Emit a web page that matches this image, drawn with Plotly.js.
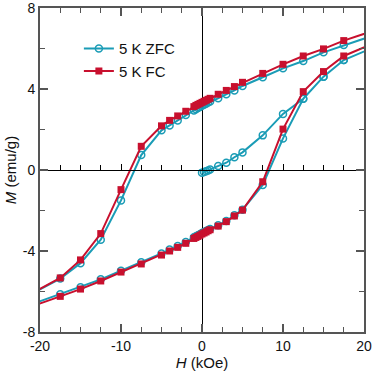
<!DOCTYPE html>
<html>
<head>
<meta charset="utf-8">
<script src="https://cdn.plot.ly/plotly-3.0.1.min.js"></script>
<style>html,body{margin:0;padding:0;background:#fff;}#chart{width:374px;height:371px;}</style>
</head>
<body>
<div id="chart"></div>
<script>
// ZFC: virgin curve, descending branch, ascending branch (H in kOe, M in emu/g)
const zfcVirginH = [0, 0.25, 0.5, 0.75, 1, 2, 3, 4, 5, 7.5, 10, 12.5, 15, 17.5, 25];
const zfcVirginM = [-0.13, -0.10, -0.06, -0.02, 0.03, 0.20, 0.36, 0.63, 0.87, 1.71, 2.77, 3.52, 4.61, 5.43, 6.70];

const descH = [25, 17.5, 15, 12.5, 10, 7.5, 5, 4, 3, 2, 1, 0.75, 0.5, 0.25, 0, -0.25, -0.5, -0.75, -1, -2, -3, -4, -5, -7.5, -10, -12.5, -15, -17.5, -25];
const zfcDescM = [7.16, 6.17, 5.81, 5.38, 5.02, 4.58, 4.15, 3.93, 3.74, 3.54, 3.38, 3.33, 3.27, 3.22, 3.17, 3.11, 3.06, 3.00, 2.94, 2.72, 2.45, 2.20, 1.96, 0.74, -1.50, -3.44, -4.60, -5.36, -6.95];
const fcDescM  = [7.38, 6.39, 5.98, 5.63, 5.22, 4.77, 4.33, 4.12, 3.93, 3.74, 3.54, 3.49, 3.44, 3.39, 3.34, 3.29, 3.24, 3.19, 3.13, 2.90, 2.67, 2.45, 2.18, 1.17, -0.97, -3.14, -4.44, -5.33, -6.95];

const ascH = [-25, -17.5, -15, -12.5, -10, -7.5, -5, -4, -3, -2, -1, -0.75, -0.5, -0.25, 0, 0.25, 0.5, 0.75, 1, 2, 3, 4, 5, 7.5, 10, 12.5, 15, 17.5, 25];
const zfcAscM = [-7.20, -6.14, -5.79, -5.40, -4.97, -4.56, -4.12, -3.93, -3.75, -3.55, -3.32, -3.27, -3.22, -3.17, -3.11, -3.06, -3.01, -2.96, -2.91, -2.73, -2.52, -2.24, -1.96, -0.74, 1.56, 3.52, 4.61, 5.43, 6.70];
const fcAscM  = [-7.30, -6.24, -5.88, -5.48, -5.04, -4.64, -4.20, -4.00, -3.82, -3.62, -3.38, -3.33, -3.28, -3.22, -3.16, -3.11, -3.06, -3.00, -2.95, -2.77, -2.55, -2.27, -1.98, -0.58, 2.02, 3.87, 4.86, 5.63, 6.90];

const seriesNames = ['5 K ZFC', '5 K FC'];
const xTickVals = [-20, -10, 0, 10, 20];
const xTickText = ['-20', '-10', '0', '10', '20'];
const yTickVals = [-8, -4, 0, 4, 8];
const yTickText = ['-8', '-4', '0', '4', '8'];

const cyan = '#1a9cb6';
const red = '#c8102e';

const zfcH = zfcVirginH.concat(descH, ascH);
const zfcM = zfcVirginM.concat(zfcDescM, zfcAscM);
const fcH = descH.concat(ascH);
const fcM = fcDescM.concat(fcAscM);

const traces = [
  {
    x: zfcH, y: zfcM, name: seriesNames[0], type: 'scatter', mode: 'lines+markers',
    line: {color: cyan, width: 2},
    marker: {symbol: 'circle-open', size: 7, color: cyan, line: {width: 1.5, color: cyan}},
    cliponaxis: true
  },
  {
    x: fcH, y: fcM, name: seriesNames[1], type: 'scatter', mode: 'lines+markers',
    line: {color: red, width: 2},
    marker: {symbol: 'square', size: 7, color: red},
    cliponaxis: true
  },
  {x: [], y: [], xaxis: 'x2', yaxis: 'y', showlegend: false, hoverinfo: 'skip'}
];

const frame = '#555555';
const font = {family: 'Liberation Sans, Arial, sans-serif', size: 14, color: '#111'};

const layout = {
  width: 374, height: 371,
  margin: {l: 40, r: 10, t: 8, b: 39},
  paper_bgcolor: '#fff', plot_bgcolor: '#fff',
  font: font,
  showlegend: true,
  legend: {
    x: 0.12, y: 0.925, xanchor: 'left', yanchor: 'top',
    bgcolor: 'rgba(0,0,0,0)', font: {family: font.family, size: 15, color: '#111'},
    tracegroupgap: 0, itemwidth: 30
  },
  xaxis: {
    range: [-20, 20], tickvals: xTickVals, ticktext: xTickText,
    ticks: 'inside', ticklen: 8, tickwidth: 1.5, tickcolor: frame,
    minor: {dtick: 2.5, ticks: 'inside', ticklen: 5, tickwidth: 1.2, tickcolor: frame, showgrid: false},
    showgrid: false, zeroline: true, zerolinecolor: '#000', zerolinewidth: 1,
    showline: true, linecolor: frame, linewidth: 2, mirror: 'ticks',
    ticklabeloverflow: 'allow',
    title: {text: '<i>H</i> (kOe)', font: {family: font.family, size: 15, color: '#111'}, standoff: 4},
    tickfont: {family: font.family, size: 14, color: '#111'}
  },
  xaxis2: {
    overlaying: 'x', anchor: 'free', position: 0.5, side: 'bottom',
    range: [-20, 20], tickvals: xTickVals, showticklabels: false,
    ticks: 'inside', ticklen: 6, tickwidth: 1, tickcolor: '#000',
    minor: {dtick: 2.5, ticks: 'inside', ticklen: 5, tickwidth: 1, tickcolor: '#000', showgrid: false},
    showgrid: false, zeroline: false, showline: true, linecolor: '#000', linewidth: 1
  },
  yaxis: {
    range: [-8, 8], tickvals: yTickVals, ticktext: yTickText,
    ticks: 'inside', ticklen: 8, tickwidth: 1.5, tickcolor: frame,
    minor: {dtick: 2, ticks: 'inside', ticklen: 5, tickwidth: 1.2, tickcolor: frame, showgrid: false},
    showgrid: false, zeroline: true, zerolinecolor: '#000', zerolinewidth: 1,
    showline: true, linecolor: frame, linewidth: 2, mirror: 'ticks',
    ticklabeloverflow: 'allow',
    title: {text: '<i>M</i> (emu/g)', font: {family: font.family, size: 15, color: '#111'}, standoff: 2},
    tickfont: {family: font.family, size: 14, color: '#111'}
  }
};

Plotly.newPlot('chart', traces, layout, {staticPlot: true, displayModeBar: false});
</script>
</body>
</html>
